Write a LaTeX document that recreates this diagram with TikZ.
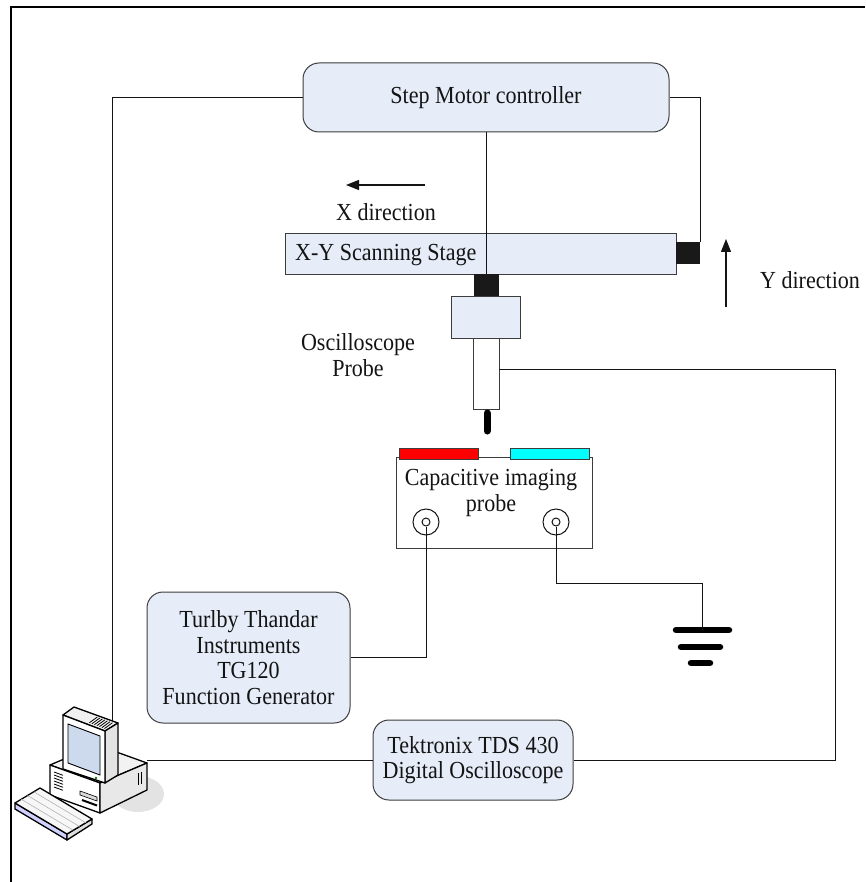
\documentclass[tikz,border=0pt]{standalone}
\usepackage{fontspec}
\setmainfont{Liberation Serif}[FakeStretch=0.9]
\usetikzlibrary{arrows.meta,calc}
\definecolor{boxfill}{RGB}{230,237,248}
\definecolor{boxline}{RGB}{60,60,60}
\definecolor{ink}{RGB}{20,20,20}
\definecolor{screenblue}{RGB}{205,218,238}
\definecolor{platecyan}{RGB}{0,255,255}
\definecolor{platered}{RGB}{255,0,0}

\begin{document}
\begin{tikzpicture}[x=1pt,y=-1pt,
  lbl/.style={font=\fontsize{24.5}{25.5}\selectfont, text=ink, align=center, inner sep=0pt},
  unit/.style={draw=boxline, fill=boxfill, line width=1pt, rounded corners=16pt, lbl},
  plainbox/.style={draw=boxline, line width=1pt, inner sep=0pt},
  wire/.style={draw=ink, line width=1pt},
  block/.style={fill=black!90, inner sep=0pt},
  plate/.style={draw=boxline, line width=0.8pt, inner sep=0pt, minimum width=79pt, minimum height=11pt},
  jack/.style={draw=ink, line width=1pt, circle, inner sep=0pt},
  dirarrow/.style={draw=ink, line width=1.2pt, -{Triangle[length=13pt,width=10pt]}},
  earth/.style={line width=6.5pt, line cap=round, draw=black},
  pcline/.style={draw=black, line width=1.3pt, line join=round},
]
\useasboundingbox (0,0) rectangle (865,882);

% outer frame
\draw[line width=2pt] (865,7.5) -- (11,7.5) -- (11,882);

% step motor controller and scanning stage
\node[unit, minimum width=366pt, minimum height=69pt] (smc) at (486,97.5) {Step Motor controller};
\node[plainbox, fill=boxfill, minimum width=391pt, minimum height=40pt] (stage) at (480.5,254) {};
\node[lbl, anchor=west] (stagelabel) at (295,255) {X-Y Scanning Stage};
\node[block, minimum width=24pt, minimum height=22pt] (ydrive) at (688,253) {};
\node[block, minimum width=25pt, minimum height=22pt] (xdrive) at (486,285) {};

% probe holder and oscilloscope probe
\node[plainbox, fill=boxfill, minimum width=69pt, minimum height=42pt] (holder) at (485.5,317) {};
\node[plainbox, fill=white, minimum width=26pt, minimum height=71pt] (probe) at (486,373.5) {};
\coordinate (tiptop) at (487,413);
\coordinate (tipend) at (487,431);
\draw[line width=7pt, line cap=round] (tiptop) -- (tipend);
\node[lbl] (oplab) at (358,355) {Oscilloscope\\Probe};

% direction arrows
\coordinate (xa0) at (425,185);
\coordinate (xa1) at (346,185);
\draw[dirarrow] (xa0) -- (xa1);
\node[lbl] (xlab) at (386,212) {X direction};
\coordinate (ya0) at (726,307);
\coordinate (ya1) at (726,239);
\draw[dirarrow] (ya0) -- (ya1);
\node[lbl] (ylab) at (810,280) {Y direction};

% capacitive imaging probe
\node[plainbox, minimum width=196pt, minimum height=91pt] (cap) at (494,502.5) {};
\node[plate, fill=platered] (redplate) at (438.5,453.5) {};
\node[plate, fill=platecyan] (cyanplate) at (549.5,453.5) {};
\node[lbl] (caplabel) at (491,493) {Capacitive imaging\\probe};
\node[jack, minimum size=26pt] (jl) at (426,522) {};
\node[jack, minimum size=8pt] (jlin) at (426,522) {};
\node[jack, minimum size=26pt] (jr) at (556,522) {};
\node[jack, minimum size=8pt] (jrin) at (556,522) {};

% instruments
\node[unit, minimum width=203pt, minimum height=131pt] (fg) at (248.5,657.5)
  {Turlby Thandar\\Instruments\\TG120\\Function Generator};
\node[unit, minimum width=200pt, minimum height=80pt] (osc) at (473,760)
  {Tektronix TDS 430\\Digital Oscilloscope};

% earth symbol
\coordinate (gnd) at (702,630);
\draw[earth] (676,630) -- (729,630);
\draw[earth] (681,647) -- (720,647);
\draw[earth] (691,663) -- (710,663);

% wiring
\coordinate (pctop) at (112,722);
\coordinate (pcside) at (147,760);
\coordinate (ptap) at (499,369);
\draw[wire] (smc.west) -| (pctop);
\draw[wire] (smc.east) -| (ydrive.north east);
\draw[wire] (smc.south) -- (xdrive.north);
\draw[wire] (ptap) -- (835,369) -- (835,760) -- (osc.east);
\draw[wire] (pcside) -- (osc.west);
\draw[wire] (fg.east) -| (jlin.south);
\draw[wire] (jrin.south) -- (556,583) -- (702,583) -- (gnd);

% computer
\fill[gray!22] (138,794) ellipse [x radius=26pt, y radius=18pt];
% system unit
\draw[pcline, fill=gray!10] (50,765) -- (97,745) -- (147,763) -- (100,783) -- cycle;
\draw[pcline, fill=white] (50,765) -- (100,783) -- (100,813) -- (50,795) -- cycle;
\draw[pcline, fill=gray!18] (100,783) -- (147,763) -- (147,790) -- (100,813) -- cycle;
\foreach \v in {0,1,...,5}
  \draw[line width=0.8pt] (54,772+\v*3) -- ++(9,3.3);
\draw[line width=0.6pt, fill=gray!30] (80,791) -- (97,797) -- (97,801) -- (80,795) -- cycle;
\draw[line width=2pt] (82,800) -- (97,805.5);
\draw[line width=0.8pt] (138,773) -- (138,785);
\draw[line width=0.8pt] (141,772) -- (141,784);
% monitor
\draw[pcline, fill=gray!12] (63,715) -- (74,707) -- (118,723) -- (105,731) -- cycle;
\draw[pcline, fill=gray!22] (105,731) -- (118,723) -- (118,775) -- (105,783) -- cycle;
\draw[pcline, fill=white] (63,715) -- (105,731) -- (105,783) -- (63,769) -- cycle;
\draw[line width=0.9pt, fill=screenblue] (68,724) -- (100,736) -- (100,775) -- (68,763) -- cycle;
\foreach \u in {0.58,0.64,...,0.94}
  \draw[line width=0.8pt] ($(63,715)!\u!(105,731)+(2,-1.5)$) -- ++(8,-5.8);
\fill[green!50!black] (96,778) circle[radius=1.4pt];
% keyboard
\draw[pcline, fill=blue!18] (15,803) -- (67,834) -- (67,840) -- (15,809) -- cycle;
\draw[pcline, fill=gray!25] (67,834) -- (92,819) -- (92,824) -- (67,840) -- cycle;
\draw[pcline, fill=gray!6] (15,803) -- (40,788) -- (92,819) -- (67,834) -- cycle;
\foreach \s in {0.25,0.5,0.75}
  \draw[gray!60, line width=0.6pt] ($(15,803)!\s!(40,788)$) -- ($(67,834)!\s!(92,819)$);
\end{tikzpicture}
\end{document}
